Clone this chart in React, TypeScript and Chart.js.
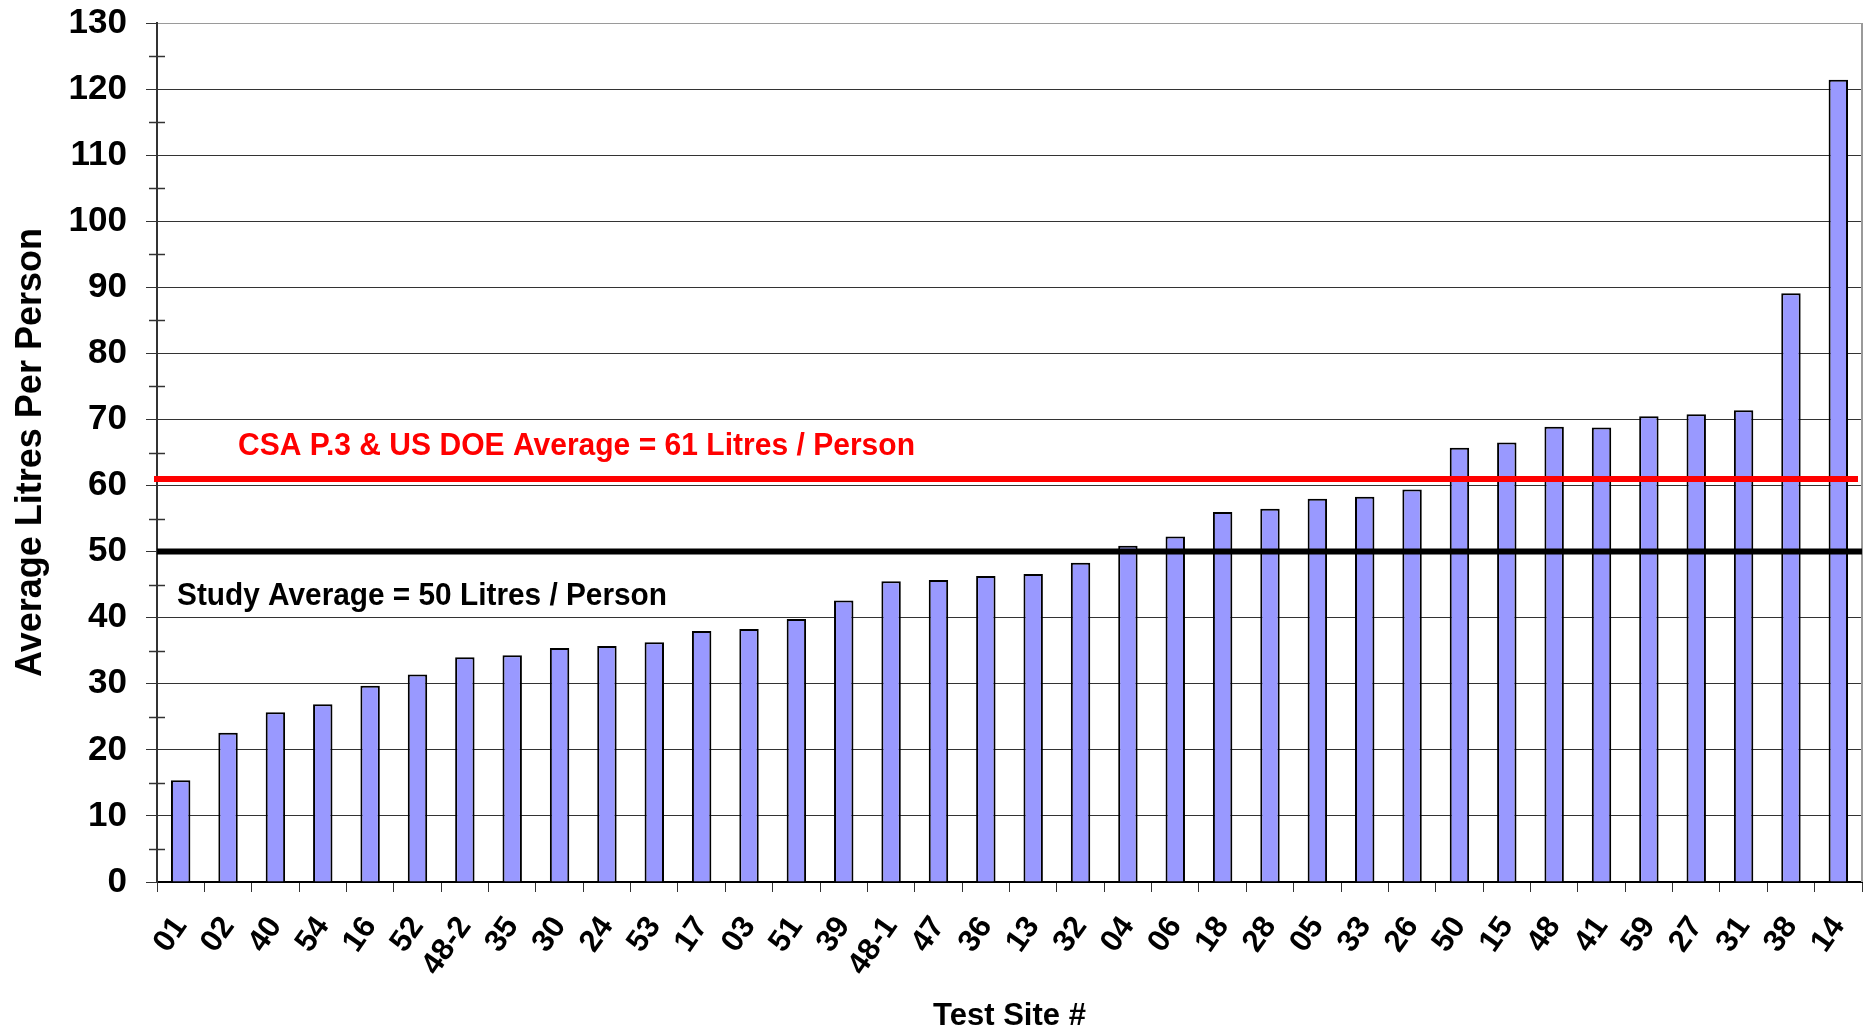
import React, { useEffect, useRef } from 'react';
import { Chart, registerables } from 'chart.js';

Chart.register(...registerables);

// Test sites, sorted by average daily hot-water use
const sites = [
  '01', '02', '40', '54', '16', '52', '48-2', '35', '30', '24', '53', '17',
  '03', '51', '39', '48-1', '47', '36', '13', '32', '04', '06', '18', '28',
  '05', '33', '26', '50', '15', '48', '41', '59', '27', '31', '38', '14',
];

const litresPerPerson = [
  15.4, 22.6, 25.7, 26.9, 29.7, 31.4, 34.0, 34.3, 35.4, 35.7, 36.3, 38.0,
  38.3, 39.8, 42.6, 45.5, 45.7, 46.3, 46.6, 48.3, 50.9, 52.3, 56.0, 56.5,
  58.0, 58.3, 59.4, 65.7, 66.5, 68.9, 68.8, 70.5, 70.8, 71.4, 89.1, 121.4,
];

// Reference averages drawn as horizontal rules
const studyAverage = 50;
const standardAverage = 61;
const studyLabel = 'Study Average = 50 Litres / Person';
const standardLabel = 'CSA P.3 & US DOE Average = 61 Litres / Person';

const yMin = 0;
const yMax = 130;
const yStep = 10;

const FONT = "'Liberation Sans', Arial, Helvetica, sans-serif";

const overlayPlugin = {
  id: 'averageRules',
  afterDatasetsDraw(chart: any) {
    const { ctx, chartArea: a, scales } = chart;
    const y = scales.y;
    ctx.save();

    // right-hand frame of the plot
    ctx.strokeStyle = '#9a9a9a';
    ctx.lineWidth = 2;
    ctx.beginPath();
    ctx.moveTo(a.right, a.top);
    ctx.lineTo(a.right, a.bottom);
    ctx.stroke();

    // minor ticks crossing the value axis
    ctx.strokeStyle = '#333';
    ctx.lineWidth = 1.5;
    for (let v = yMin + yStep / 2; v < yMax; v += yStep) {
      const py = Math.round(y.getPixelForValue(v)) + 0.5;
      ctx.beginPath();
      ctx.moveTo(a.left - 8, py);
      ctx.lineTo(a.left + 8, py);
      ctx.stroke();
    }

    // standard average rule
    const yr = y.getPixelForValue(standardAverage);
    ctx.strokeStyle = '#ff0000';
    ctx.lineWidth = 6;
    ctx.beginPath();
    ctx.moveTo(a.left - 3, yr);
    ctx.lineTo(a.right - 4, yr);
    ctx.stroke();

    // study average rule
    const yb = y.getPixelForValue(studyAverage);
    ctx.strokeStyle = '#000';
    ctx.lineWidth = 6;
    ctx.beginPath();
    ctx.moveTo(a.left, yb);
    ctx.lineTo(a.right, yb);
    ctx.stroke();

    // rule captions
    ctx.font = `bold 32px ${FONT}`;
    ctx.textAlign = 'left';
    ctx.textBaseline = 'alphabetic';
    ctx.fillStyle = '#ff0000';
    ctx.fillText(standardLabel, a.left + 81, y.getPixelForValue(64.6), 677);
    ctx.fillStyle = '#000';
    ctx.fillText(studyLabel, a.left + 20, y.getPixelForValue(41.9), 490);

    ctx.restore();
  },
};

export default function App() {
  const canvasRef = useRef<HTMLCanvasElement | null>(null);

  useEffect(() => {
    const canvas = canvasRef.current;
    if (!canvas) return;
    Chart.defaults.font.family = FONT;
    Chart.defaults.color = '#000';

    const chart = new Chart(canvas, {
      type: 'bar',
      data: {
        labels: sites,
        datasets: [
          {
            data: litresPerPerson,
            backgroundColor: '#9999ff',
            borderColor: '#000',
            borderWidth: 2,
            categoryPercentage: 1,
            barPercentage: 0.41,
          },
        ],
      },
      options: {
        responsive: false,
        animation: false,
        devicePixelRatio: 1,
        layout: { padding: { top: 23, right: 4, left: 0, bottom: 0 } },
        plugins: {
          legend: { display: false },
          tooltip: { enabled: false },
        },
        scales: {
          x: {
            offset: true,
            grid: {
              offset: true,
              drawOnChartArea: false,
              drawTicks: true,
              tickLength: 10,
              color: '#333',
              lineWidth: 1,
            },
            border: { color: '#000', width: 2 },
            ticks: {
              autoSkip: false,
              minRotation: 55,
              maxRotation: 55,
              padding: 18,
              color: '#000',
              font: { size: 31, weight: 'bold' },
            },
            title: {
              display: true,
              text: 'Test Site #',
              color: '#000',
              font: { size: 31, weight: 'bold', lineHeight: 0.84 },
              padding: 0,
            },
            afterFit: (s: any) => {
              s.height = 147;
              s.paddingLeft = 0;
              s.paddingRight = 0;
            },
          },
          y: {
            min: yMin,
            max: yMax,
            ticks: {
              stepSize: yStep,
              padding: 19,
              color: '#000',
              font: { size: 35, weight: 'bold' },
            },
            grid: {
              color: (c: any) => (c.tick && c.tick.value === yMax ? '#9a9a9a' : '#333'),
              tickColor: '#333',
              tickLength: 11,
              lineWidth: 1,
            },
            border: { color: '#333', width: 2 },
            title: {
              display: true,
              text: 'Average Litres Per Person',
              color: '#000',
              font: { size: 36, weight: 'bold' },
              padding: { top: 9, bottom: 0 },
            },
            afterFit: (s: any) => {
              s.width = 157;
              s.paddingTop = 0;
              s.paddingBottom = 0;
            },
          },
        },
      } as any,
      plugins: [overlayPlugin],
    });

    return () => chart.destroy();
  }, []);

  return (
    <div style={{ position: 'fixed', left: 0, top: 0, width: 1866, height: 1029, background: '#fff' }}>
      <canvas ref={canvasRef} width={1866} height={1029} style={{ display: 'block' }} />
    </div>
  );
}
